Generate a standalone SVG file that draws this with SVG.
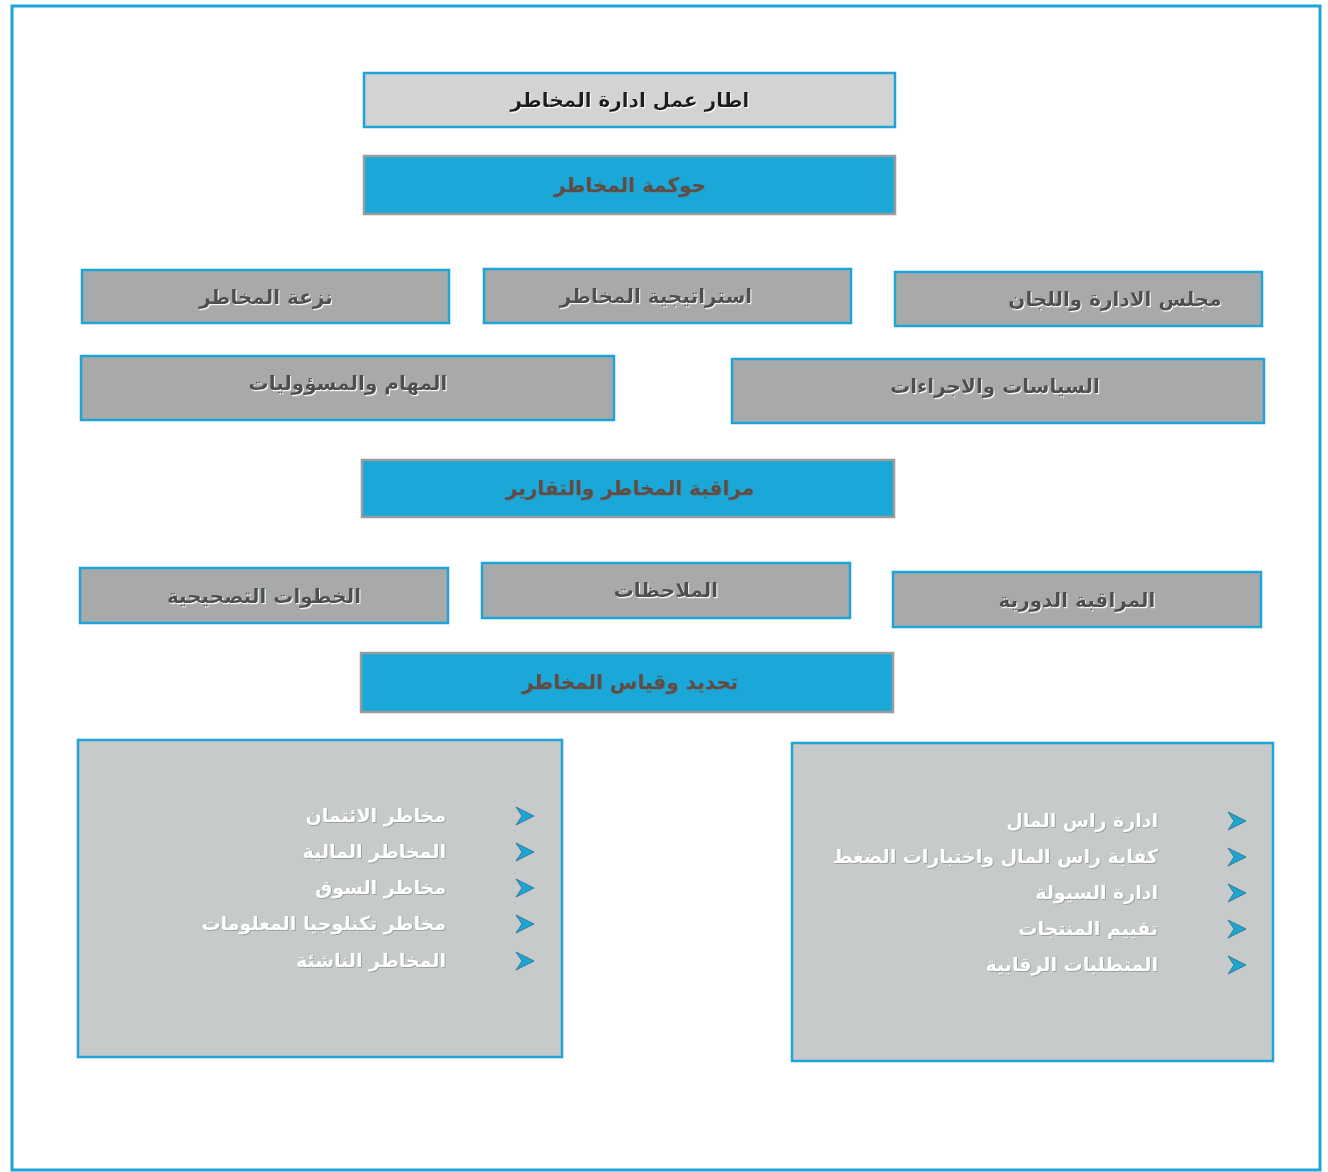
<svg xmlns="http://www.w3.org/2000/svg" width="1328" height="1172" viewBox="0 0 1328 1172">
<defs>
<style>
.frame{fill:#ffffff;stroke:#1ea4d8;stroke-width:3}
.title{fill:#d2d4d4;stroke:#1ea4d8;stroke-width:2.5}
.blue{fill:#1aa8d8;stroke:#9a9c9c;stroke-width:2.5}
.gray{fill:#a8aaaa;stroke:#1ea4d8;stroke-width:2.5}
.list{fill:#c6cacb;stroke:#1ea4d8;stroke-width:2.5}
text{font-family:"DejaVu Sans","Noto Sans",sans-serif;font-weight:bold}
.tt{fill:#1c1c1c;font-size:20px;text-anchor:middle;filter:url(#wsh)}
.bt{fill:#5b4d48;font-size:20px;text-anchor:middle;filter:url(#dsh)}
.gt{fill:#4e4f50;font-size:20px;text-anchor:middle;filter:url(#wsh)}
.li{fill:#ffffff;font-size:19px;text-anchor:end;filter:url(#dsh)}
.bul{fill:#1ba6d3;stroke:#2a6f86;stroke-width:0.8}
</style>
<filter id="wsh" x="-10%" y="-30%" width="120%" height="160%"><feDropShadow dx="1" dy="1.2" stdDeviation="0.4" flood-color="#ffffff" flood-opacity="0.95"/></filter>
<filter id="dsh" x="-10%" y="-30%" width="120%" height="160%"><feDropShadow dx="0.8" dy="0.8" stdDeviation="0.4" flood-color="#6d7070" flood-opacity="0.6"/></filter>
<path id="arr" class="bul" d="M0,-9 L18,0 L0,9 L6,0 Z"/>
</defs>
<rect class="frame" x="12" y="6" width="1308" height="1164"/>
<g id="connectors"/>
<g id="n-title"><rect class="title" x="364" y="73" width="531" height="54"/><text class="tt" x="630" y="107">اطار عمل ادارة المخاطر</text></g>
<g id="n-governance"><rect class="blue" x="364" y="156" width="531" height="58"/><text class="bt" x="630" y="192">حوكمة المخاطر</text></g>
<g id="n-appetite"><rect class="gray" x="82" y="270" width="367" height="53"/><text class="gt" x="266" y="304">نزعة المخاطر</text></g>
<g id="n-strategy"><rect class="gray" x="484" y="269" width="367" height="54"/><text class="gt" x="656" y="303">استراتيجية المخاطر</text></g>
<g id="n-board"><rect class="gray" x="895" y="272" width="367" height="54"/><text class="gt" x="1115" y="306">مجلس الادارة واللجان</text></g>
<g id="n-roles"><rect class="gray" x="81" y="356" width="533" height="64"/><text class="gt" x="348" y="390">المهام والمسؤوليات</text></g>
<g id="n-policies"><rect class="gray" x="732" y="359" width="532" height="64"/><text class="gt" x="995" y="393">السياسات والاجراءات</text></g>
<g id="n-monitoring"><rect class="blue" x="362" y="460" width="532" height="57"/><text class="bt" x="630" y="495">مراقبة المخاطر والتقارير</text></g>
<g id="n-corrective"><rect class="gray" x="80" y="568" width="368" height="55"/><text class="gt" x="264" y="603">الخطوات التصحيحية</text></g>
<g id="n-notes"><rect class="gray" x="482" y="563" width="368" height="55"/><text class="gt" x="666" y="597">الملاحظات</text></g>
<g id="n-periodic"><rect class="gray" x="893" y="572" width="368" height="55"/><text class="gt" x="1077" y="607">المراقبة الدورية</text></g>
<g id="n-identify"><rect class="blue" x="361" y="653" width="532" height="59"/><text class="bt" x="630" y="689">تحديد وقياس المخاطر</text></g>
<g id="n-risks"><rect class="list" x="78" y="740" width="484" height="317"/>
<use href="#arr" x="516" y="816"/><text class="li" x="446" y="822">مخاطر الائتمان</text>
<use href="#arr" x="516" y="852"/><text class="li" x="446" y="858">المخاطر المالية</text>
<use href="#arr" x="516" y="888"/><text class="li" x="446" y="894">مخاطر السوق</text>
<use href="#arr" x="516" y="924"/><text class="li" x="446" y="930">مخاطر تكنلوجيا المعلومات</text>
<use href="#arr" x="516" y="961"/><text class="li" x="446" y="967">المخاطر الناشئة</text>
</g>
<g id="n-capital"><rect class="list" x="792" y="743" width="481" height="318"/>
<use href="#arr" x="1228" y="821"/><text class="li" x="1158" y="827">ادارة راس المال</text>
<use href="#arr" x="1228" y="857"/><text class="li" x="1158" y="863">كفاية راس المال واختبارات الضغط</text>
<use href="#arr" x="1228" y="893"/><text class="li" x="1158" y="899">ادارة السيولة</text>
<use href="#arr" x="1228" y="929"/><text class="li" x="1158" y="935">تقييم المنتجات</text>
<use href="#arr" x="1228" y="965"/><text class="li" x="1158" y="971">المتطلبات الرقابية</text>
</g>
</svg>
